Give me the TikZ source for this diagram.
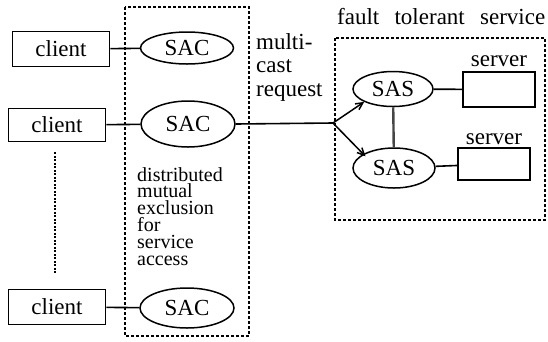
\documentclass[tikz,border=0pt]{standalone}
\usepackage{fontspec}
\setmainfont{Liberation Serif}
\usetikzlibrary{shapes.geometric,arrows.meta}

\tikzset{
  box/.style={draw, line width=1.6pt, rectangle, inner sep=0pt,
    minimum width=97pt, minimum height=35pt, font=\fontsize{23}{24}\selectfont},
  srvbox/.style={draw, line width=1.5pt, rectangle, inner sep=0pt,
    minimum width=72pt, minimum height=34pt},
  agent/.style={draw, line width=1.5pt, ellipse, inner sep=0pt,
    font=\fontsize{23}{24}\selectfont},
  group/.style={draw, line width=1.6pt, dash pattern=on 3pt off 2pt},
  link/.style={line width=1.6pt},
  lbl/.style={font=\fontsize{23}{24}\selectfont, inner sep=0pt},
  cast/.style={line width=1.5pt, -{Straight Barb[length=7pt,width=7pt]}},
}

\begin{document}
\begin{tikzpicture}[x=1pt,y=-1pt]
\useasboundingbox (0,0) rectangle (548,341);

% mutual exclusion group and fault tolerant service group
\draw[group] (125,7) rectangle (249,336);
\draw[group] (335,38) rectangle (545,220);

% clients
\node[box] (c1) at (61,49) {client};
\node[box, minimum height=33pt] (c2) at (57,125) {client};
\node[box] (c3) at (57,307) {client};

% service access clients
\node[agent, minimum width=93pt, minimum height=32pt] (sac1) at (187,48) {SAC};
\node[agent, minimum width=94pt, minimum height=46pt] (sac2) at (188,124) {SAC};
\node[agent, minimum width=94pt, minimum height=40pt] (sac3) at (187,308) {SAC};

\draw[link] (c1) -- (sac1);
\draw[link] (c2) -- (sac2);
\draw[link] (c3) -- (sac3);
\draw[line width=1.4pt, dash pattern=on 2pt off 1.5pt, shorten <=10pt, shorten >=15pt]
  ([xshift=-2pt]c2.south) -- ([xshift=-2pt]c3.north);

\node[anchor=north west, align=left, inner sep=0pt,
  font=\fontsize{20}{16.8}\selectfont] (txt) at (137,167)
  {distributed\\mutual\\exclusion\\for\\service\\access};

% multicast request
\node[anchor=base west, align=left, inner sep=0pt,
  font=\fontsize{23}{23.5}\selectfont] (mc) at (256,96)
  {multi-\\cast\\request};
\coordinate (b) at (333,123);

% fault tolerant service
\node[anchor=base west, inner sep=0pt, font=\fontsize{23}{24}\selectfont] (fts) at (337,24)
  {\makebox[208pt][s]{fault tolerant service}};
\node[agent, minimum width=80pt, minimum height=35pt] (sas1) at (393,89) {SAS};
\node[agent, minimum width=82pt, minimum height=40pt] (sas2) at (394,168) {SAS};
\node[srvbox, minimum height=35pt] (s1) at (499,89.5) {};
\node[srvbox, minimum height=32pt] (s2) at (494,164) {};
\node[lbl, anchor=base] (l1) at (s1.north |- 0,66) {server};
\node[lbl, anchor=base] (l2) at (s2.north |- 0,144) {server};

\draw[link] (sac2.east) -- (b);
\draw[cast] (b) -- (sas1.south west);
\draw[cast] (b) -- ([xshift=1pt,yshift=-3pt]sas2.north west);
\draw[line width=2.4pt, gray!55!black] (sas1) -- (sas2);
\draw[link] (sas1) -- (s1);
\draw[link] (sas2) -- (s2);
\end{tikzpicture}
\end{document}
